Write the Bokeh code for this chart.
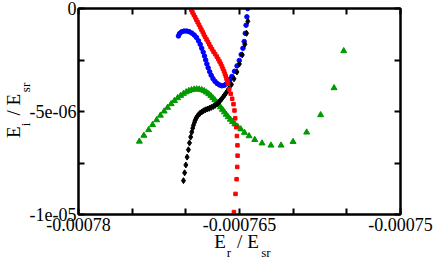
from bokeh.plotting import figure
from bokeh.models import Range1d, LinearAxis, FixedTicker
from bokeh.embed import file_html
from bokeh.resources import INLINE

# ---------------- data (E_r / E_sr , E_i / E_sr) ----------------
red_x = [-769.60e-6, -769.48e-6, -769.38e-6, -769.26e-6, -769.13e-6, -769.02e-6, -768.90e-6, -768.78e-6,
         -768.66e-6, -768.55e-6, -768.43e-6, -768.32e-6, -768.20e-6, -768.07e-6, -767.94e-6, -767.82e-6,
         -767.70e-6, -767.56e-6, -767.42e-6, -767.27e-6, -767.12e-6, -766.98e-6, -766.86e-6, -766.74e-6,
         -766.63e-6, -766.54e-6, -766.44e-6, -766.36e-6, -766.28e-6, -766.21e-6, -766.14e-6, -766.07e-6,
         -765.96e-6, -765.82e-6, -765.68e-6, -765.56e-6, -765.47e-6, -765.40e-6, -765.30e-6, -765.24e-6,
         -765.19e-6, -765.18e-6, -765.21e-6, -765.27e-6, -765.37e-6, -765.52e-6]
red_y = [0.05e-6, -0.071e-6, -0.190e-6, -0.310e-6, -0.429e-6, -0.548e-6, -0.667e-6, -0.786e-6,
         -0.905e-6, -1.024e-6, -1.143e-6, -1.262e-6, -1.381e-6, -1.500e-6, -1.619e-6, -1.738e-6,
         -1.857e-6, -1.976e-6, -2.095e-6, -2.214e-6, -2.333e-6, -2.452e-6, -2.571e-6, -2.690e-6,
         -2.810e-6, -2.929e-6, -3.048e-6, -3.167e-6, -3.286e-6, -3.405e-6, -3.524e-6, -3.643e-6,
         -3.929e-6, -4.143e-6, -4.381e-6, -4.643e-6, -4.952e-6, -5.333e-6, -5.762e-6, -6.190e-6,
         -6.643e-6, -7.143e-6, -7.690e-6, -8.286e-6, -9.000e-6, -9.881e-6]

blue_x = [-770.69e-6, -770.58e-6, -770.39e-6, -770.16e-6, -769.92e-6, -769.69e-6, -769.46e-6, -769.22e-6,
          -769.01e-6, -768.82e-6, -768.66e-6, -768.52e-6, -768.38e-6, -768.26e-6, -768.15e-6, -768.04e-6,
          -767.92e-6, -767.78e-6, -767.64e-6, -767.47e-6, -767.28e-6, -767.08e-6, -766.86e-6, -766.64e-6,
          -766.42e-6, -766.22e-6, -766.03e-6, -765.86e-6, -765.71e-6,
          -765.46e-6, -765.23e-6, -765.02e-6, -764.84e-6, -764.68e-6, -764.56e-6, -764.46e-6, -764.39e-6,
          -764.31e-6, -764.24e-6]
blue_y = [-1.333e-6, -1.214e-6, -1.133e-6, -1.095e-6, -1.095e-6, -1.124e-6, -1.190e-6, -1.286e-6,
          -1.405e-6, -1.571e-6, -1.738e-6, -1.929e-6, -2.119e-6, -2.310e-6, -2.500e-6, -2.690e-6,
          -2.881e-6, -3.071e-6, -3.238e-6, -3.405e-6, -3.538e-6, -3.643e-6, -3.714e-6, -3.752e-6,
          -3.729e-6, -3.657e-6, -3.548e-6, -3.429e-6, -3.300e-6,
          -3.048e-6, -2.786e-6, -2.524e-6, -2.238e-6, -1.929e-6, -1.605e-6, -1.205e-6, -0.810e-6,
          -0.405e-6, 0.0]

black_x = [-770.22e-6, -770.11e-6, -770.00e-6, -769.88e-6, -769.76e-6, -769.66e-6, -769.55e-6, -769.45e-6,
           -769.36e-6, -769.29e-6, -769.20e-6, -769.13e-6, -769.04e-6, -768.94e-6, -768.82e-6, -768.68e-6,
           -768.52e-6, -768.36e-6, -768.18e-6, -767.99e-6, -767.80e-6, -767.62e-6, -767.43e-6, -767.26e-6,
           -767.10e-6, -766.95e-6, -766.80e-6, -766.66e-6, -766.52e-6, -766.39e-6, -766.26e-6, -766.12e-6,
           -765.99e-6, -765.75e-6, -765.51e-6, -765.24e-6, -765.01e-6, -764.74e-6, -764.50e-6, -764.34e-6,
           -764.22e-6]
black_y = [-8.357e-6, -7.976e-6, -7.595e-6, -7.214e-6, -6.857e-6, -6.524e-6, -6.238e-6, -6.000e-6,
           -5.810e-6, -5.667e-6, -5.538e-6, -5.429e-6, -5.324e-6, -5.238e-6, -5.157e-6, -5.086e-6,
           -5.024e-6, -4.967e-6, -4.919e-6, -4.881e-6, -4.843e-6, -4.800e-6, -4.752e-6, -4.700e-6,
           -4.633e-6, -4.562e-6, -4.476e-6, -4.390e-6, -4.295e-6, -4.200e-6, -4.105e-6, -4.000e-6,
           -3.895e-6, -3.690e-6, -3.414e-6, -3.081e-6, -2.690e-6, -2.252e-6, -1.738e-6, -1.205e-6,
           -0.619e-6]

green_x = [-774.33e-6, -773.91e-6, -773.47e-6, -773.10e-6, -772.72e-6, -772.37e-6, -772.02e-6, -771.70e-6,
           -771.37e-6, -771.06e-6, -770.76e-6, -770.48e-6, -770.22e-6, -769.97e-6, -769.72e-6, -769.47e-6,
           -769.22e-6, -768.99e-6, -768.76e-6, -768.52e-6, -768.29e-6, -768.08e-6, -767.87e-6, -767.67e-6,
           -767.49e-6, -767.30e-6, -767.12e-6, -766.95e-6, -766.77e-6, -766.59e-6, -766.41e-6, -766.24e-6,
           -766.05e-6, -765.85e-6, -765.65e-6, -765.43e-6, -765.18e-6, -764.88e-6, -764.54e-6, -764.11e-6,
           -763.58e-6, -762.90e-6, -762.07e-6, -761.13e-6, -760.01e-6, -758.74e-6, -757.44e-6, -756.19e-6,
           -755.29e-6, -754.97e-6]
green_y = [-6.452e-6, -6.167e-6, -5.891e-6, -5.643e-6, -5.414e-6, -5.190e-6, -4.990e-6, -4.810e-6,
           -4.633e-6, -4.476e-6, -4.343e-6, -4.229e-6, -4.133e-6, -4.057e-6, -3.995e-6, -3.952e-6,
           -3.924e-6, -3.914e-6, -3.924e-6, -3.952e-6, -4.000e-6, -4.067e-6, -4.148e-6, -4.238e-6,
           -4.338e-6, -4.443e-6, -4.552e-6, -4.667e-6, -4.786e-6, -4.905e-6, -5.029e-6, -5.148e-6,
           -5.267e-6, -5.386e-6, -5.500e-6, -5.614e-6, -5.729e-6, -5.857e-6, -6.024e-6, -6.190e-6,
           -6.371e-6, -6.538e-6, -6.643e-6, -6.643e-6, -6.467e-6, -6.010e-6, -5.167e-6, -3.857e-6,
           -2.062e-6, 0.19e-6]

x_tick_values = [-0.00078, -0.000765, -0.00075]
x_tick_labels = ["-0.00078", "-0.000765", "-0.00075"]
x_minor_values = [-0.000775, -0.00077, -0.00076, -0.000755]
y_tick_values = [0.0, -5e-06, -1e-05]
y_tick_labels = ["0", "-5e-06", "-1e-05"]
y_minor_values = [-2.5e-06, -7.5e-06]

X0, X1 = -0.00078, -0.00075
Y0, Y1 = -1e-05, 0.0

FONT = "Liberation Serif"

# ---------------- layout (pixels) ----------------
W, H = 436, 262
FL, FR, FT, FB = 78, 36, 8, 44          # frame borders
FW, FH = W - FL - FR, H - FT - FB


def px_to_x(px):
    return X0 + (px - FL) / FW * (X1 - X0)


def py_to_y(py):
    return Y1 - (py - FT) / FH * (Y1 - Y0)


p = figure(width=W, height=H, output_backend="svg", toolbar_location=None,
           x_range=Range1d(X0, X1), y_range=Range1d(Y0, Y1),
           min_border_left=FL, min_border_right=FR, min_border_top=FT, min_border_bottom=FB,
           background_fill_color="white", border_fill_color="white")
p.xgrid.visible = False
p.ygrid.visible = False
p.outline_line_color = "black"
p.outline_line_width = 2


def style_axis(ax, size="18px"):
    ax.axis_line_width = 2
    ax.axis_line_color = "black"
    ax.major_tick_in = 6
    ax.major_tick_out = 0
    ax.minor_tick_in = 6
    ax.minor_tick_out = 0
    ax.major_tick_line_width = 2
    ax.minor_tick_line_width = 2
    ax.major_tick_line_color = "black"
    ax.minor_tick_line_color = "black"
    ax.major_label_text_font = FONT
    ax.major_label_text_font_size = size
    ax.major_label_text_color = "black"
    ax.axis_label = None


xa = p.xaxis[0]
style_axis(xa)
xa.ticker = FixedTicker(ticks=x_tick_values, minor_ticks=x_minor_values)
xa.major_label_overrides = dict(zip(x_tick_values, x_tick_labels))
xa.major_label_standoff = 3

ya = p.yaxis[0]
style_axis(ya)
ya.ticker = FixedTicker(ticks=y_tick_values, minor_ticks=y_minor_values)
ya.major_label_overrides = dict(zip(y_tick_values, y_tick_labels))
ya.major_label_standoff = 2

top = LinearAxis(ticker=FixedTicker(ticks=[], minor_ticks=x_tick_values + x_minor_values))
style_axis(top)
top.major_label_standoff = 0
p.add_layout(top, "above")

right = LinearAxis(ticker=FixedTicker(ticks=[], minor_ticks=y_tick_values + y_minor_values))
style_axis(right)
right.major_label_standoff = 0
p.add_layout(right, "right")


# ---------------- axis titles with subscripts (text-only axes) ----------------
def title_axis(side, pieces, size, standoff):
    ticks = [t for t, _ in pieces]
    ax = LinearAxis(ticker=FixedTicker(ticks=ticks, minor_ticks=[]))
    ax.axis_line_color = None
    ax.major_tick_line_color = None
    ax.minor_tick_line_color = None
    ax.major_tick_in = 0
    ax.major_tick_out = 0
    ax.minor_tick_in = 0
    ax.minor_tick_out = 0
    ax.major_label_text_font = FONT
    ax.major_label_text_font_size = size
    ax.major_label_text_color = "black"
    ax.major_label_standoff = standoff
    ax.major_label_overrides = {t: s for t, s in pieces}
    ax.axis_label = None
    if side == "left":
        ax.major_label_orientation = "vertical"
    p.add_layout(ax, side)
    return ax


# x title  "E_r / E_sr"
title_axis("below", [(px_to_x(219.5), "E"), (px_to_x(239.2), "/"), (px_to_x(252.5), "E")], "19px", -3)
title_axis("below", [(px_to_x(228.3), "r"), (px_to_x(265.5), "sr")], "13px", -10)

# y title  "E_i / E_sr"  (reads bottom to top)
title_axis("left", [(py_to_y(126.3), "i"), (py_to_y(88.5), "sr")], "13px", -7)
title_axis("left", [(py_to_y(134.0), "E"), (py_to_y(114.5), "/"), (py_to_y(101.0), "E")], "19px", -9)

# ---------------- series ----------------
p.scatter(green_x, green_y, marker="triangle", size=6, fill_color="#009a00", line_color="#009a00", line_width=1)
p.scatter(blue_x, blue_y, marker="circle", size=4.5, fill_color="#0000ff", line_color="#0000ff", line_width=1)
p.scatter(black_x, black_y, marker="diamond", size=6, fill_color="black", line_color="black", line_width=1)
p.scatter(red_x, red_y, marker="square", size=3.5, fill_color="#ff0000", line_color="#ff0000", line_width=1)

open("out.html", "w").write(file_html(p, INLINE))
